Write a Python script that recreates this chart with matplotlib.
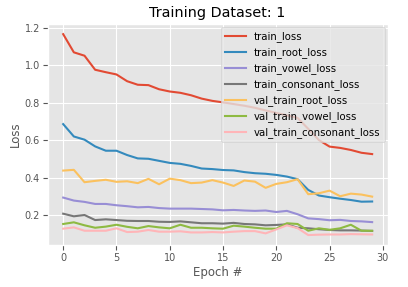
import numpy as np
import matplotlib
matplotlib.use("Agg")
import matplotlib.pyplot as plt

plt.style.use("ggplot")

epochs = np.arange(30)

train_loss = [1.165, 1.068, 1.05, 0.975, 0.962, 0.95, 0.914, 0.895, 0.893, 0.871,
              0.859, 0.852, 0.839, 0.821, 0.809, 0.801, 0.792, 0.783, 0.772, 0.758,
              0.745, 0.732, 0.718, 0.66, 0.6, 0.565, 0.558, 0.547, 0.532, 0.525]
train_root_loss = [0.685, 0.619, 0.602, 0.566, 0.543, 0.543, 0.52, 0.502, 0.5, 0.489,
                   0.478, 0.473, 0.462, 0.448, 0.445, 0.44, 0.438, 0.429, 0.423, 0.42,
                   0.414, 0.405, 0.391, 0.334, 0.304, 0.295, 0.287, 0.28, 0.271, 0.272]
train_vowel_loss = [0.293, 0.277, 0.27, 0.259, 0.259, 0.252, 0.247, 0.241, 0.243, 0.237,
                    0.234, 0.234, 0.234, 0.232, 0.23, 0.225, 0.227, 0.224, 0.222, 0.224,
                    0.216, 0.222, 0.204, 0.182, 0.178, 0.172, 0.174, 0.168, 0.166, 0.162]
train_consonant_loss = [0.207, 0.193, 0.2, 0.173, 0.177, 0.173, 0.169, 0.168, 0.168, 0.164,
                        0.163, 0.166, 0.161, 0.156, 0.156, 0.154, 0.158, 0.152, 0.15, 0.145,
                        0.147, 0.15, 0.132, 0.129, 0.124, 0.12, 0.118, 0.118, 0.117, 0.115]
val_train_root_loss = [0.437, 0.441, 0.375, 0.382, 0.388, 0.377, 0.38, 0.37, 0.393, 0.364,
                       0.394, 0.386, 0.37, 0.373, 0.386, 0.373, 0.355, 0.384, 0.378, 0.345,
                       0.366, 0.375, 0.391, 0.311, 0.316, 0.33, 0.3, 0.314, 0.309, 0.298]
val_train_vowel_loss = [0.152, 0.161, 0.145, 0.132, 0.138, 0.148, 0.137, 0.129, 0.141, 0.134,
                        0.129, 0.148, 0.132, 0.132, 0.129, 0.127, 0.143, 0.138, 0.132, 0.127,
                        0.127, 0.156, 0.152, 0.116, 0.129, 0.121, 0.129, 0.148, 0.116, 0.116]
val_train_consonant_loss = [0.127, 0.134, 0.116, 0.116, 0.116, 0.129, 0.109, 0.111, 0.12, 0.111,
                            0.111, 0.113, 0.107, 0.107, 0.109, 0.107, 0.111, 0.114, 0.114, 0.102,
                            0.123, 0.145, 0.13, 0.093, 0.095, 0.096, 0.096, 0.098, 0.097, 0.096]

series = [("train_loss", train_loss),
          ("train_root_loss", train_root_loss),
          ("train_vowel_loss", train_vowel_loss),
          ("train_consonant_loss", train_consonant_loss),
          ("val_train_root_loss", val_train_root_loss),
          ("val_train_vowel_loss", val_train_vowel_loss),
          ("val_train_consonant_loss", val_train_consonant_loss)]

fig = plt.figure(figsize=(4.08, 2.87), dpi=100)
ax = fig.add_axes([0.117, 0.146, 0.833, 0.77])

for name, vals in series:
    ax.plot(epochs, vals, label=name, linewidth=1.5)

ax.set_title("Training Dataset: 1", fontsize=10.4, color="black", pad=5)
ax.set_xlabel("Epoch #", fontsize=8.5, labelpad=2)
ax.set_ylabel("Loss", fontsize=8.5, labelpad=2)
ax.tick_params(labelsize=7, pad=2)
ax.set_xticks([0, 5, 10, 15, 20, 25, 30])
ax.set_yticks([0.2, 0.4, 0.6, 0.8, 1.0, 1.2])
ax.legend(loc="upper right", fontsize=7.3, borderaxespad=0.3)

fig.savefig("out.png", dpi=100)
